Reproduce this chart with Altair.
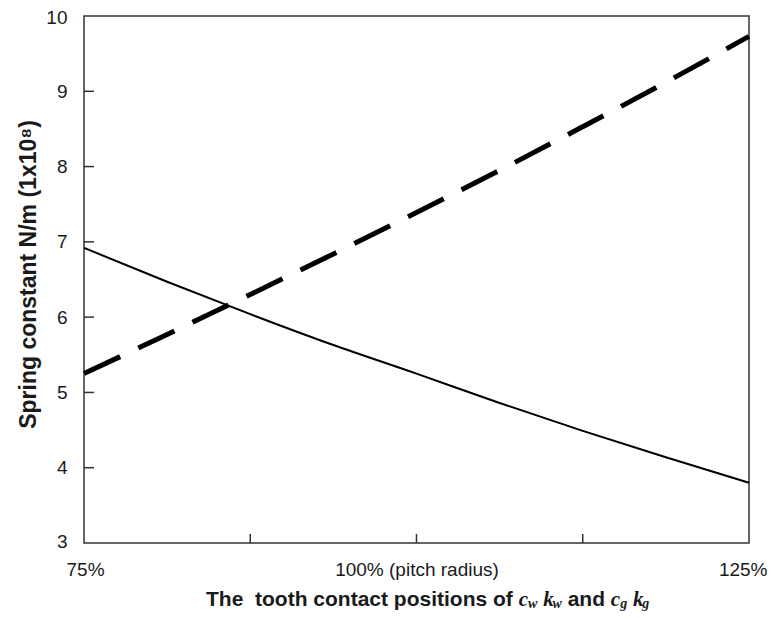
import altair as alt
import pandas as pd

# ---- data ----
positions = [75, 81.25, 87.5, 93.75, 100, 106.25, 112.5, 118.75, 125]
solid_k = [6.92, 6.47, 6.04, 5.63, 5.25, 4.86, 4.49, 4.14, 3.80]
dashed_k = [5.25, 5.77, 6.30, 6.84, 7.39, 7.95, 8.53, 9.12, 9.73]
x_label_values = [75, 100, 125]
x_tick_values = [87.5, 100, 112.5]
y_label_values = [3, 4, 5, 6, 7, 8, 9, 10]
y_tick_values = [4, 5, 6, 7, 8, 9]
y_title = "Spring constant N/m (1x10\u2078)"

W, H = 665, 527
SANS = "Liberation Sans, Arial, sans-serif"
SERIF = "Liberation Serif, Times New Roman, serif"
INK = "#1a1a1a"

df = pd.DataFrame({"pos": positions, "solid": solid_k, "dashed": dashed_k})
xs = alt.Scale(domain=[75, 125], nice=False, zero=False)
ys = alt.Scale(domain=[3, 10], nice=False, zero=False)

xaxis = alt.Axis(values=x_label_values, title=None, ticks=False, tickSize=0, domain=False, grid=False,
                 labelExpr="datum.value == 100 ? '100% (pitch radius)' : datum.value + '%'",
                 labelFontSize=19, labelFont=SANS, labelColor=INK, labelPadding=17,
                 labelOverlap=False, labelFlush=True, labelFlushOffset=18, labelBound=False)
yaxis = alt.Axis(values=y_label_values, format="d", ticks=False, tickSize=0, domain=False, grid=False,
                 labelFontSize=19, labelFont=SANS, labelColor=INK, labelPadding=17,
                 labelFlush=True, labelFlushOffset=8, labelOverlap=False,
                 title=y_title, titleFont=SANS, titleFontSize=23, titleFontWeight="bold",
                 titleColor=INK, titleAngle=270, titleAlign="center", titleBaseline="middle",
                 titleX=-56, titleY=258)

base = alt.Chart(df)
solid = base.mark_line(color="black", strokeWidth=2, interpolate="monotone").encode(
    x=alt.X("pos:Q", scale=xs, axis=xaxis),
    y=alt.Y("solid:Q", scale=ys, axis=yaxis),
)
dashed = base.mark_line(color="black", strokeWidth=5, strokeDash=[40, 20], strokeCap="butt",
                        interpolate="monotone").encode(
    x=alt.X("pos:Q", scale=xs),
    y=alt.Y("dashed:Q", scale=ys),
)

yt = alt.Chart(pd.DataFrame({"v": y_tick_values})).mark_rule(color="#333", strokeWidth=1.5).encode(
    y=alt.Y("v:Q", scale=ys), x=alt.value(0), x2=alt.value(10))
xt = alt.Chart(pd.DataFrame({"v": x_tick_values})).mark_rule(color="#333", strokeWidth=1.5).encode(
    x=alt.X("v:Q", scale=xs), y=alt.value(H), y2=alt.value(H - 9))

# ---- composite x-axis title with italic symbols and subscripts ----
F = 21
SUB = round(F * 0.68)
sans_bold = {' ': 278, '\u00a0': 278, 'T': 611, 'h': 611, 'e': 556, 't': 333, 'o': 611, 'c': 556,
             'n': 611, 'a': 556, 'p': 611, 's': 556, 'i': 278, 'f': 333, 'd': 611}
serif_ital = {'c': 444, 'k': 444, 'w': 667, 'g': 500}
parts = [
    ("The\u00a0\u00a0tooth contact positions of", "main"), (" ", "gap"),
    ("c", "ital"), ("w", "sub"), (" ", "gap"),
    ("k", "ital"), ("w", "sub"), (" ", "gap"),
    ("and", "main"), (" ", "gap"),
    ("c", "ital"), ("g", "sub"), (" ", "gap"),
    ("k", "ital"), ("g", "sub"),
]
x_cur = 206 - 84
base_y = 590
title_layers = []
for text, kind in parts:
    if kind in ("main", "gap"):
        w = sum(sans_bold.get(ch, 556) for ch in text) * F / 1000
    elif kind == "ital":
        w = sum(serif_ital.get(ch, 500) for ch in text) * F / 1000
    else:
        w = sum(serif_ital.get(ch, 500) for ch in text) * SUB / 1000
    if kind == "main":
        m = alt.Chart(pd.DataFrame({"t": [text]})).mark_text(
            align="left", baseline="alphabetic", font=SANS, fontSize=F, fontWeight="bold", color=INK
        ).encode(x=alt.value(x_cur), y=alt.value(base_y), text="t:N")
        title_layers.append(m)
    elif kind == "ital":
        m = alt.Chart(pd.DataFrame({"t": [text]})).mark_text(
            align="left", baseline="alphabetic", font=SERIF, fontSize=F, fontStyle="italic",
            fontWeight="bold", color=INK
        ).encode(x=alt.value(x_cur), y=alt.value(base_y), text="t:N")
        title_layers.append(m)
    elif kind == "sub":
        m = alt.Chart(pd.DataFrame({"t": [text]})).mark_text(
            align="left", baseline="alphabetic", font=SERIF, fontSize=SUB, fontStyle="italic",
            fontWeight="bold", color=INK
        ).encode(x=alt.value(x_cur), y=alt.value(base_y + 2), text="t:N")
        title_layers.append(m)
    x_cur += w

chart = alt.layer(solid, dashed, yt, xt, *title_layers).properties(
    width=W, height=H,
    autosize=alt.AutoSizeParams(type="none"),
    padding={"left": 76, "top": 8, "right": 18, "bottom": 68},
    background="white",
).configure_view(stroke="#333", strokeWidth=1.5)

chart.save("out.html", embed_options={"renderer": "svg", "actions": False})
